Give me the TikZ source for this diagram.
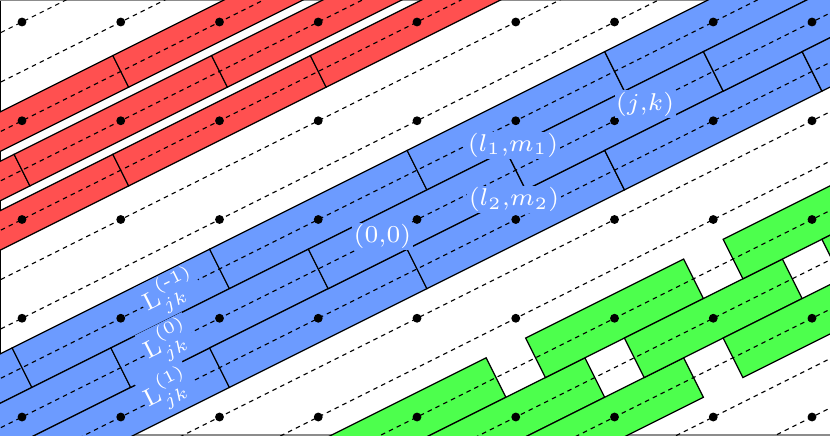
\documentclass[tikz,border=0pt]{standalone}
\usepackage{amsmath}
\definecolor{myred}{RGB}{255,80,80}
\definecolor{myblue}{RGB}{108,155,255}
\definecolor{mygreen}{RGB}{77,255,77}
\tikzset{
  redbrick/.style={fill=myred,draw=black,line width=0.35pt,line join=miter},
  bluebrick/.style={fill=myblue,draw=black,line width=0.35pt},
  greenbrick/.style={fill=mygreen,draw=black,line width=0.35pt},
  dashline/.style={draw=black,line width=0.32pt,dash pattern=on 1.3pt off 1.2pt},
  latdot/.style={fill=black},
  lab/.style={fill=myblue,text=white,inner sep=0.4pt,font=\fontsize{7.4}{9}\selectfont},
}
% brick centred on lattice point: half length (1,.5), half width (-.1,.2)
\newcommand\brickR[2]{\filldraw[redbrick,shift={({#1},{#2})}] (-1.08,-0.34) -- (0.92,0.66) -- (1.08,0.34) -- (-0.92,-0.66) -- cycle;}
\newcommand\brickB[2]{\filldraw[bluebrick,shift={({#1},{#2})}] (-1.1,-0.3) -- (0.9,0.7) -- (1.1,0.3) -- (-0.9,-0.7) -- cycle;}
\newcommand\brickG[2]{\filldraw[greenbrick,shift={({#1},{#2})}] (-0.9,-0.2) -- (0.7,0.6) -- (0.9,0.2) -- (-0.7,-0.6) -- cycle;}
\begin{document}
\begin{tikzpicture}
\useasboundingbox (-0.2228,-4.1823) rectangle (8.1823,0.2228);
\draw[line width=0.8pt] (-0.2228,-4.1823) -- (-0.2228,0.2228);
\draw[line width=0.5pt,black!45] (-0.2228,0.2228) -- (8.1823,0.2228);
\draw[line width=0.5pt,black!45] (-0.2228,-4.1823) -- (8.1823,-4.1823);
\begin{scope}
\clip (-0.2228,-4.1823) rectangle (8.1823,0.2228);
\foreach \k in {-3,...,6} {
  \brickR{2*\k}{-1+\k}
  \brickR{1+2*\k}{-1+\k}
  \brickR{2*\k}{-2+\k}
  \brickB{1+2*\k}{-3+\k}
  \brickB{2*\k}{-4+\k}
  \brickB{1+2*\k}{-4+\k}
}
\brickG{4}{-4}
\brickG{5}{-4}
\brickG{6}{-4}
\brickG{6}{-3}
\brickG{7}{-3}
\brickG{8}{-3}
\brickG{8}{-2}
\brickG{9}{-2}
\foreach \c in {0,-0.5,...,-8.5}
  \draw[dashline] (-1,{\c-0.5}) -- (9,{\c+4.5});
\foreach \i in {0,...,8}
  \foreach \j in {0,...,4}
    \fill[latdot] (\i,-\j) circle (0.045);
\end{scope}
\node[lab] (n00) at (3.651,-2.174) {$(0{,}0)$};
\node[lab] (nl1) at (4.972,-1.25) {$(l_1{,}m_1)$};
\node[lab] (nl2) at (4.982,-1.80) {$(l_2{,}m_2)$};
\node[lab] (njk) at (6.309,-0.830) {$(j{,}k)$};
\node[lab,rotate=26.565] (lm1) at (1.50,-2.74) {$\mathrm{L}^{(\text{-}1)}_{jk}$};
\node[lab,rotate=26.565] (l0) at (1.47,-3.24) {$\mathrm{L}^{(0)}_{jk}$};
\node[lab,rotate=26.565] (l1) at (1.47,-3.73) {$\mathrm{L}^{(1)}_{jk}$};
\end{tikzpicture}
\end{document}
